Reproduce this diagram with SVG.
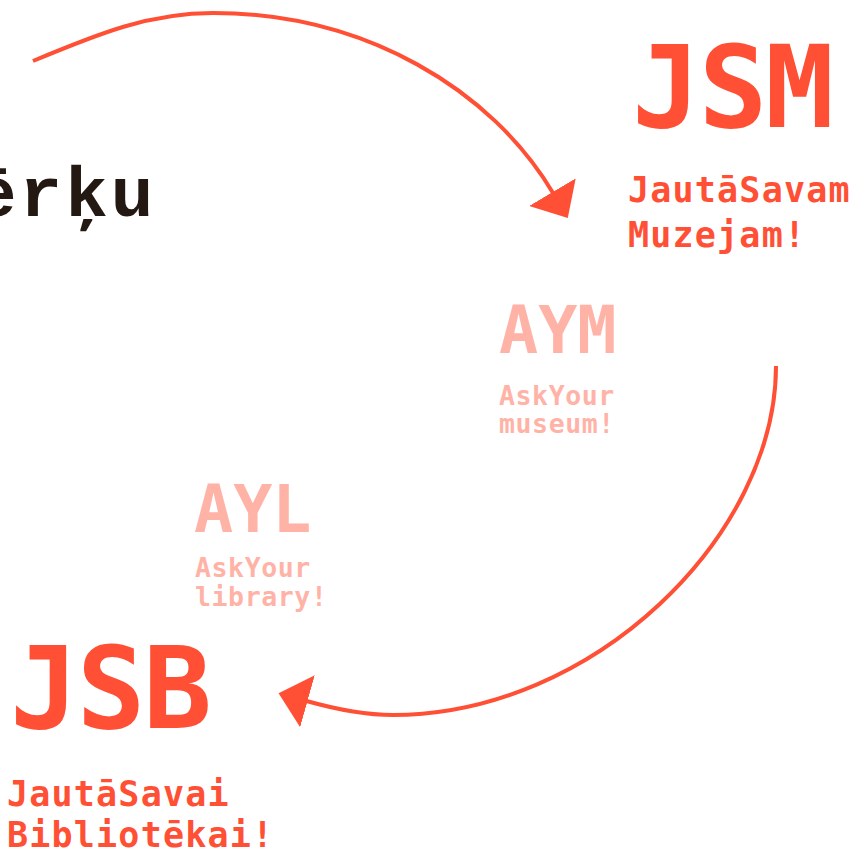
<svg xmlns="http://www.w3.org/2000/svg" width="859" height="852" viewBox="0 0 859 852">
<style>
.mono{font-family:"DejaVu Sans Mono","Liberation Mono",monospace;font-weight:bold}
.red{fill:#ff5036}
.pink{fill:#ffb3a7}
.big{font-size:114px;letter-spacing:-2px}
.mid{font-size:65px;letter-spacing:0px}
.sub{font-size:35px;letter-spacing:1.2px}
.small{font-size:26.5px;letter-spacing:0.6px}
.dark{font-family:"Liberation Mono","DejaVu Sans Mono",monospace;font-weight:bold;font-size:71px;letter-spacing:3px;fill:#231912}
.arc{fill:none;stroke:#ff5036;stroke-width:4}
</style>
<defs>
<marker id="head" markerUnits="userSpaceOnUse" viewBox="0 0 30 54" markerWidth="30" markerHeight="54" refX="1" refY="27" orient="auto">
<path d="M0,0 L30,27 L0,54 Z" fill="#ff5036"/>
</marker>
</defs>
<rect width="859" height="852" fill="#ffffff"/>
<g id="connectors">
<path class="arc" d="M33,61 C100,33 150,13 213,13 C365,13 492,90 553,193" marker-end="url(#head)"/>
<path class="arc" d="M776,366 C776,536 593,715 393,715 C363,715 335.3,709.1 306.5,701" marker-end="url(#head)"/>
</g>
<g id="merku">
<text class="dark" x="-26" y="216">ērķu</text>
</g>
<g id="jsm">
<text class="mono red big" x="632" y="127">JSM</text>
<text class="mono red sub" x="628" y="202">JautāSavam</text>
<text class="mono red sub" x="628" y="247">Muzejam!</text>
</g>
<g id="aym">
<text class="mono pink mid" x="499" y="353">AYM</text>
<text class="mono pink small" x="499" y="405">AskYour</text>
<text class="mono pink small" x="499" y="433">museum!</text>
</g>
<g id="ayl">
<text class="mono pink mid" x="194" y="532">AYL</text>
<text class="mono pink small" x="195" y="577">AskYour</text>
<text class="mono pink small" x="195" y="606">library!</text>
</g>
<g id="jsb">
<text class="mono red big" x="10" y="728">JSB</text>
<text class="mono red sub" x="7" y="806">JautāSavai</text>
<text class="mono red sub" x="7" y="847">Bibliotēkai!</text>
</g>
</svg>
